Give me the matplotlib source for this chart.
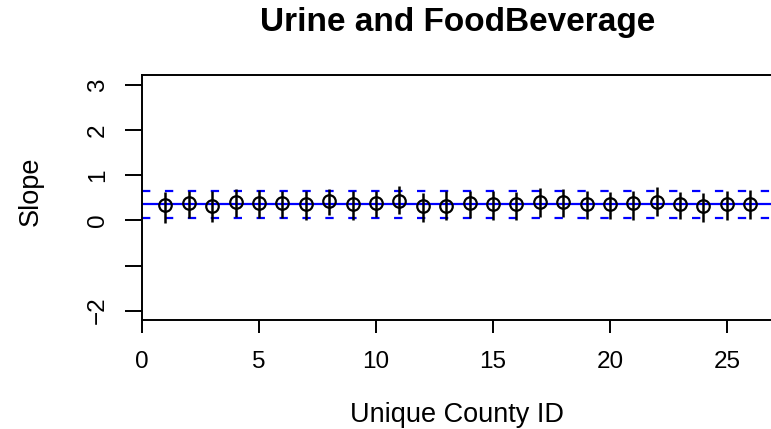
import matplotlib
matplotlib.use("Agg")
import matplotlib.pyplot as plt
import numpy as np

# slope estimates per county with interval ends
county_id = np.arange(1, 27)
slope = [0.34, 0.39, 0.33, 0.40, 0.39, 0.38, 0.37, 0.44, 0.36, 0.39, 0.44, 0.32, 0.33,
         0.38, 0.36, 0.36, 0.42, 0.40, 0.37, 0.36, 0.38, 0.42, 0.36, 0.32, 0.36, 0.37]
lower = [-0.05, 0.05, -0.03, 0.07, 0.05, 0.06, 0.01, 0.12, 0.00, 0.07, 0.14, -0.03, 0.01,
         0.05, 0.01, 0.00, 0.08, 0.08, 0.03, 0.03, 0.01, 0.11, 0.03, -0.03, 0.00, 0.03]
upper = [0.64, 0.66, 0.66, 0.70, 0.68, 0.66, 0.66, 0.70, 0.66, 0.66, 0.77, 0.62, 0.66,
         0.66, 0.65, 0.64, 0.71, 0.70, 0.66, 0.64, 0.66, 0.74, 0.63, 0.62, 0.66, 0.68]
overall = 0.36
overall_lo = 0.05
overall_hi = 0.66

x_ticks = [0, 5, 10, 15, 20, 25]
y_ticks = [-2, -1, 0, 1, 2, 3]
y_tick_labels = ["\u22122", "", "0", "1", "2", "3"]

plt.rcParams["font.family"] = ["Liberation Sans", "DejaVu Sans"]
plt.rcParams["lines.scale_dashes"] = False

W, H = 771, 429
fig = plt.figure(figsize=(W / 100, H / 100), dpi=100)

# plot region (right side runs past the figure edge like the original)
left, right, top, bottom = 142, 776, 75, 320
ax = fig.add_axes([left / W, 1 - bottom / H, (right - left) / W, (bottom - top) / H])

ax.axhline(overall, color="#0000ff", lw=1.6, zorder=1)
for v in (overall_lo, overall_hi):
    ax.axhline(v, color="#0000ff", lw=1.6, dashes=(6, 10.5), zorder=1)

slope_arr = np.array(slope)
yerr = [slope_arr - np.array(lower), np.array(upper) - slope_arr]
ax.errorbar(county_id, slope_arr, yerr=yerr, fmt="o", ms=9, mfc="none", mec="black",
            mew=1.6, ecolor="black", elinewidth=1.8, capsize=0, zorder=3)

ax.set_xlim(0, 27.1)
ax.set_ylim(-2.21, 3.23)
ax.set_xticks(x_ticks)
ax.set_yticks(y_ticks)
ax.set_yticklabels(y_tick_labels, rotation=90, va="center")
ax.tick_params(axis="x", length=9.5, width=1.4, labelsize=17.5, pad=13)
ax.tick_params(axis="y", length=12, width=1.4, labelsize=17.5, pad=12)
for s in ax.spines.values():
    s.set_linewidth(1.4)
ax.spines["right"].set_visible(False)

def fx(px):
    return px / W

def fy(py):
    return 1 - py / H

fig.text(fx(458), fy(30.5), "Urine and FoodBeverage", ha="center", va="baseline",
         fontsize=24, fontweight="bold")
fig.text(fx(457), fy(421.5), "Unique County ID", ha="center", va="baseline", fontsize=19.5)
fig.text(fx(31), fy(191), "Slope", ha="center", va="center", rotation=90, fontsize=19.5)

fig.savefig("out.png", dpi=100)
